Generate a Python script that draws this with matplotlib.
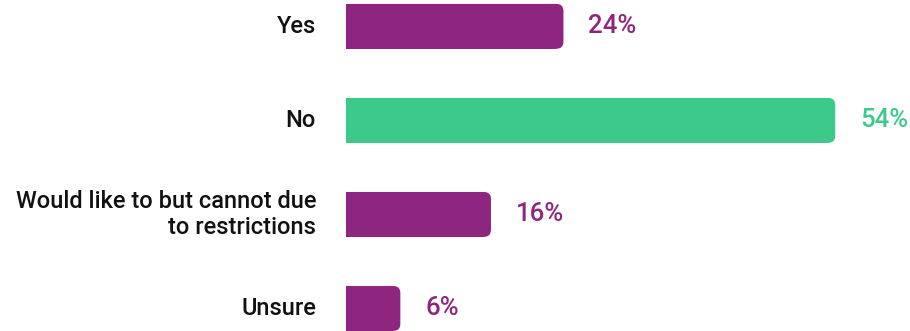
import matplotlib.pyplot as plt
from matplotlib.patches import FancyBboxPatch, Rectangle

categories = ['Yes', 'No', 'Would like to but cannot due\nto restrictions', 'Unsure']
values = [24, 54, 16, 6]
colors = ['#8E257E', '#3DC98A', '#8E257E', '#8E257E']

fig = plt.figure(figsize=(9.10, 3.31), dpi=100)
ax = fig.add_axes([346 / 910, 0, 1 - 346 / 910, 1])

ypos = list(range(len(categories)))
bar_h = 0.477
ax.set_xlim(0, (910 - 346) / 9.06)
ax.set_ylim(3.24, -0.28)

bars = ax.barh(ypos, values, height=bar_h, color='none')

# px -> data conversions, used for the rounded right end
px_x = ax.get_xlim()[1] / (910 - 346)
px_y = (ax.get_ylim()[0] - ax.get_ylim()[1]) / 331
r = 7 * px_x

for bar, c, v in zip(bars, colors, values):
    x0, y0 = bar.get_x(), bar.get_y()
    w, h = bar.get_width(), bar.get_height()
    ax.add_patch(FancyBboxPatch((x0, y0), w, h,
                                boxstyle=f'round,pad=0,rounding_size={r}',
                                mutation_aspect=px_y / px_x,
                                facecolor=c, edgecolor='none'))
    ax.add_patch(Rectangle((x0, y0), w - r, h, facecolor=c, edgecolor='none'))
    ax.text(w + 25 * px_x, bar.get_y() + h / 2, f'{v}%', color=c,
            fontsize=18.5, fontfamily='Roboto', fontweight='medium',
            ha='left', va='center')

for y, lab in zip(ypos, categories):
    ax.text(-30 * px_x, y, lab, color='#111111', fontsize=17,
            fontfamily='Roboto', fontweight='medium',
            ha='right', va='center', multialignment='right',
            linespacing=1.2, clip_on=False)

ax.axis('off')
fig.savefig('out.png', dpi=100)
